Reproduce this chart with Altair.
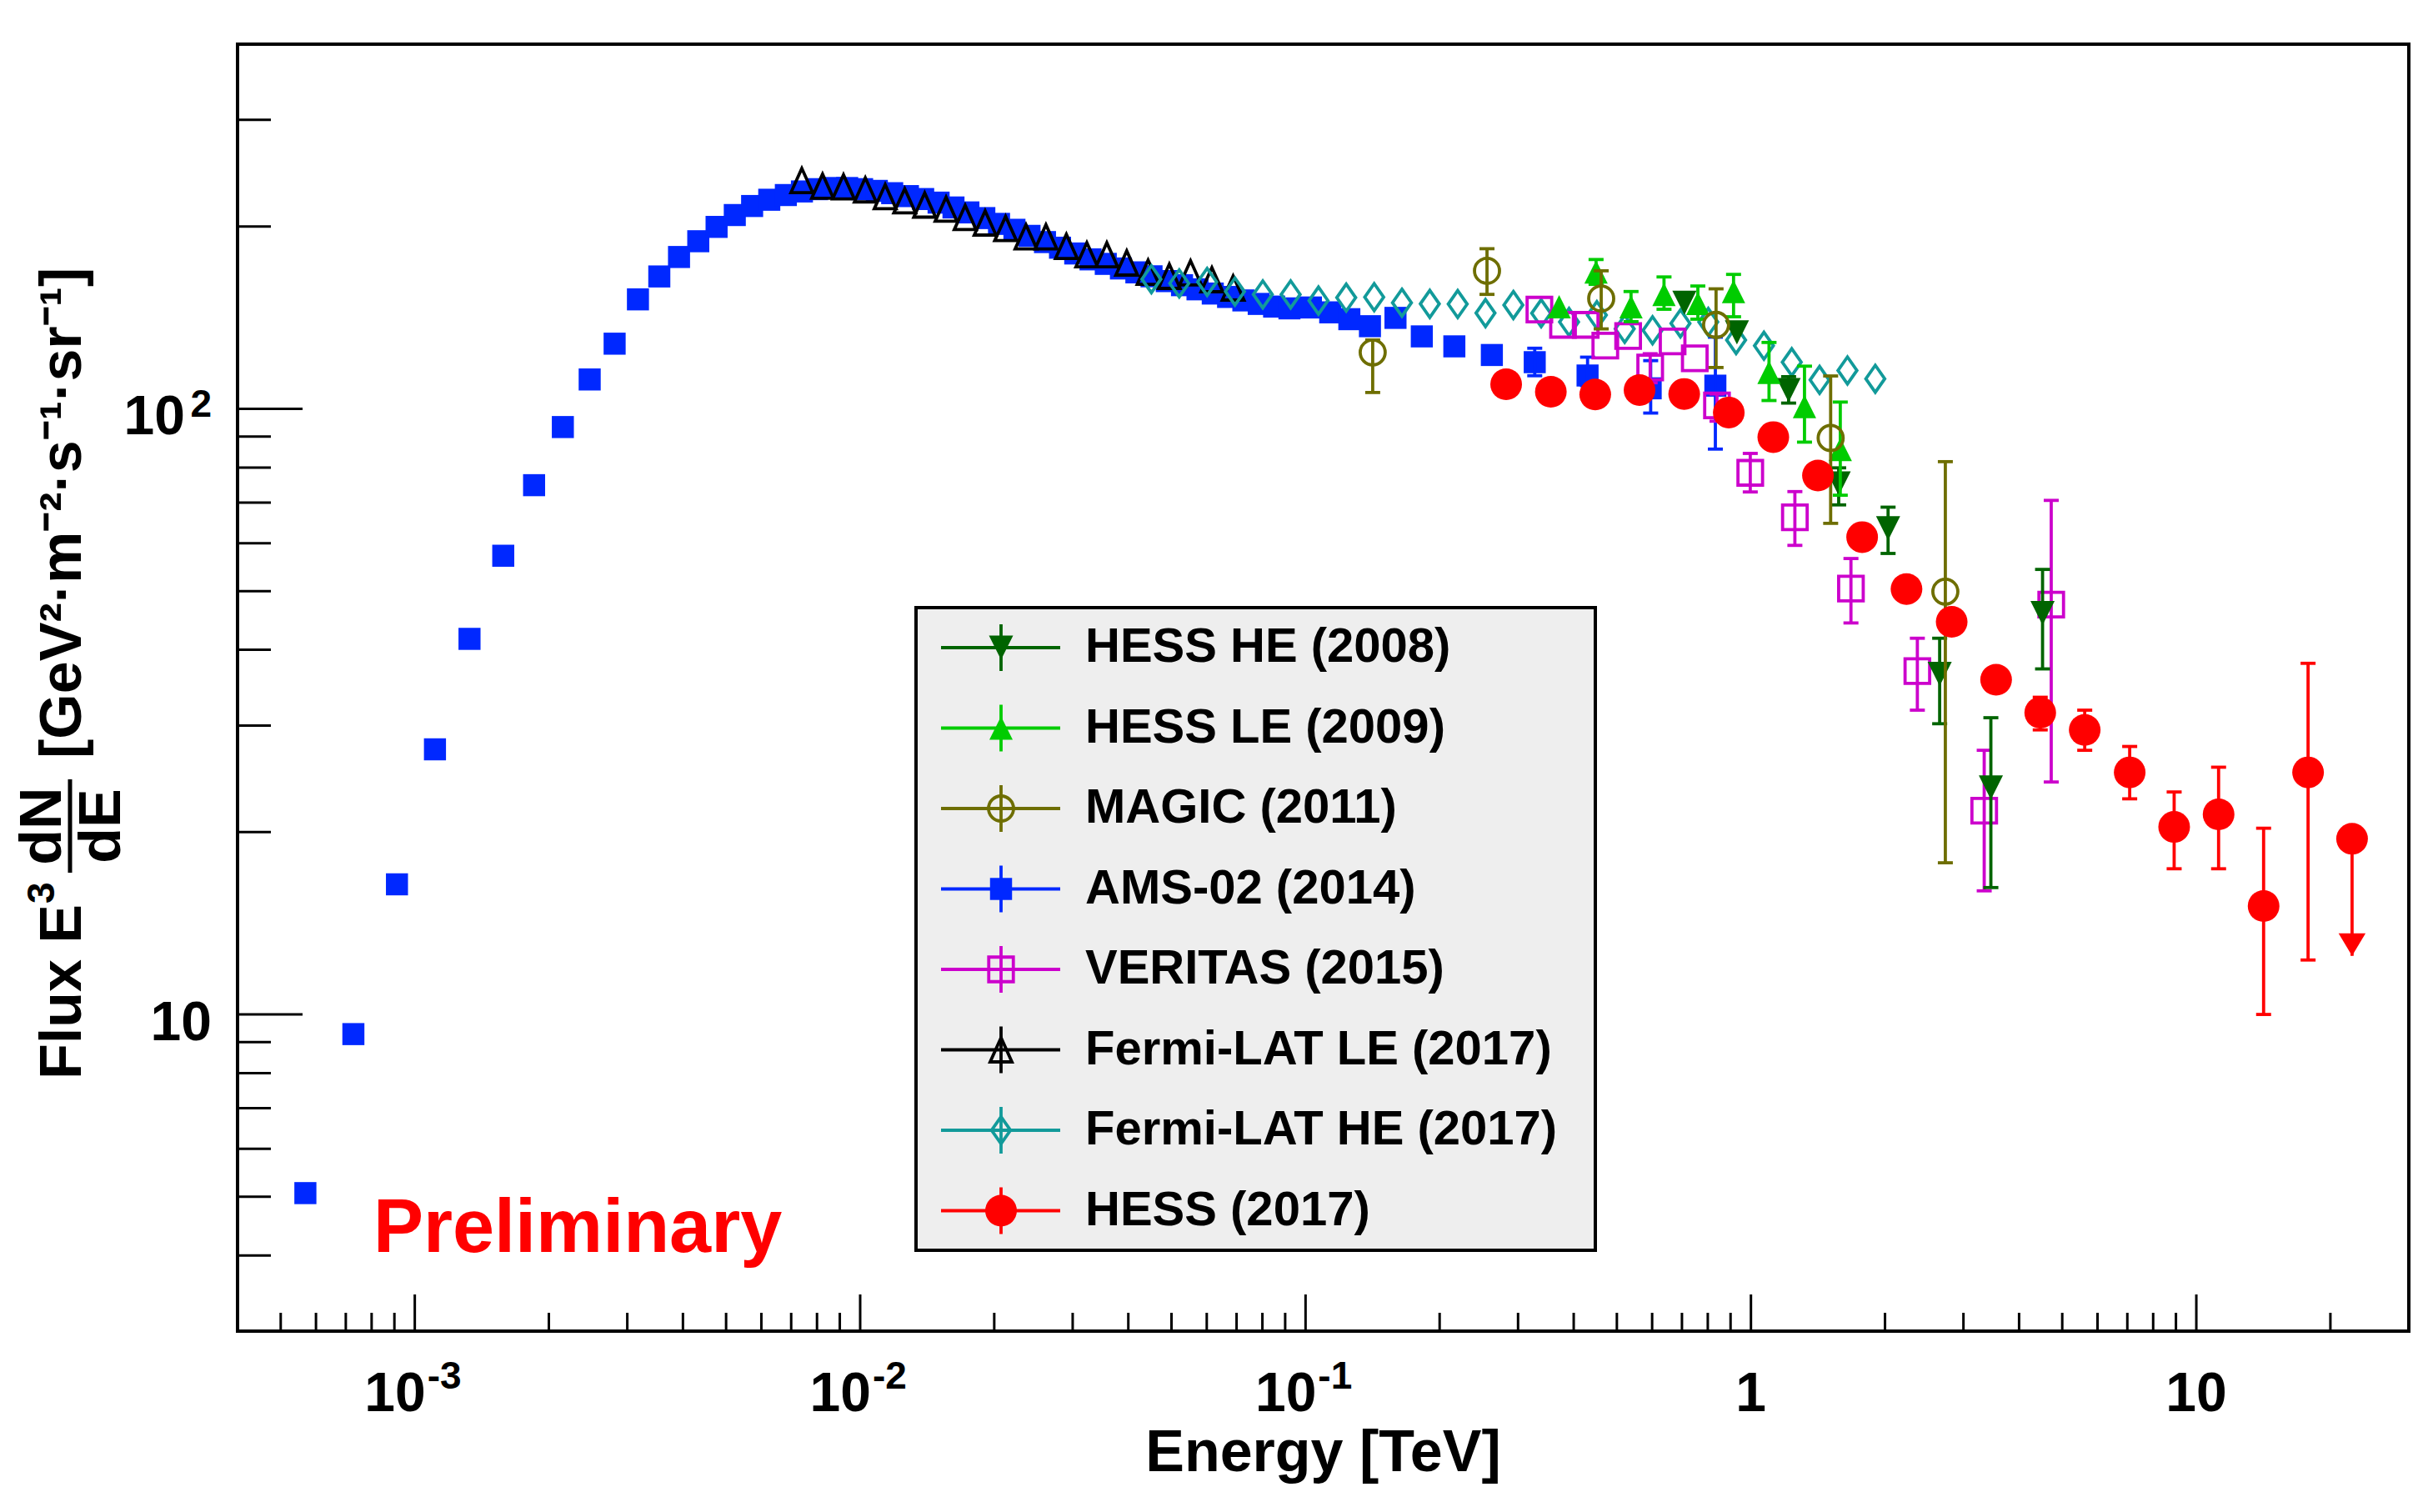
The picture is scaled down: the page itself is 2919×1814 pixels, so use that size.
import altair as alt
import pandas as pd

FONT = "Liberation Sans"
W, H = 2605, 1544

# ------------------------------------------------------------------ data
# AMS-02 (2014)
AMS_E = [5.68e-4, 7.28e-4, 9.12e-4, 1.11e-3, 1.327e-3, 1.58e-3, 1.853e-3, 2.15e-3, 2.47e-3, 2.81e-3,
         3.17e-3, 3.54e-3, 3.92e-3, 4.33e-3, 4.76e-3, 5.23e-3, 5.72e-3, 6.25e-3, 6.81e-3, 7.40e-3,
         8.00e-3, 8.65e-3, 9.35e-3, 1.01e-2, 1.09e-2, 1.18e-2, 1.28e-2, 1.385e-2, 1.50e-2, 1.62e-2,
         1.75e-2, 1.90e-2, 2.05e-2, 2.22e-2, 2.40e-2, 2.60e-2, 2.81e-2, 3.04e-2, 3.29e-2, 3.56e-2,
         3.85e-2, 4.17e-2, 4.51e-2, 4.88e-2, 5.28e-2, 5.72e-2, 6.19e-2, 6.70e-2, 7.25e-2, 7.85e-2,
         8.50e-2, 9.20e-2, 0.1028, 0.1136, 0.1254, 0.1395, 0.1592, 0.1824, 0.2158, 0.262,
         0.327, 0.4297, 0.5955, 0.832]
AMS_F = [5.07, 9.28, 16.4, 27.4, 41.7, 57.2, 74.8, 93.3, 111.8, 128.1,
         151.6, 165.4, 178.1, 189.1, 199.7, 208.9, 216.2, 221.4, 225.4, 228.5,
         230.5, 231.5, 231.5, 230.5, 229.0, 227.0, 224.5, 222.0, 219.0, 215.0,
         211.0, 206.5, 202.0, 197.5, 193.0, 188.5, 184.5, 180.5, 176.5, 173.5,
         170.5, 168.0, 165.5, 162.5, 160.0, 157.5, 155.0, 153.0, 151.0, 149.0,
         147.5, 146.5, 147.0, 144.3, 140.6, 136.9, 141.3, 131.7, 126.8, 122.7,
         119.4, 113.5, 108.1, 109.2]
AMS_ERR_E = [0.327, 0.4297, 0.5955, 0.832]
AMS_ERR_LO = [113.4, 109.2, 98.4, 85.8]
AMS_ERR_HI = [125.9, 121.7, 120.1, 131.3]

# Fermi-LAT LE (2017)
FLE_E = [7.396e-3, 8.233e-3, 9.173e-3, 1.027e-2, 1.138e-2, 1.259e-2, 1.396e-2, 1.559e-2, 1.721e-2, 1.908e-2,
         2.121e-2, 2.357e-2, 2.613e-2, 2.904e-2, 3.228e-2, 3.579e-2, 3.967e-2, 4.431e-2, 4.944e-2, 5.518e-2,
         6.162e-2, 6.877e-2]
FLE_F = [238.2, 233.1, 232.5, 229.9, 224.0, 220.5, 217.0, 213.6, 207.0, 202.7,
         198.5, 192.3, 192.3, 185.4, 179.6, 179.6, 174.1, 168.1, 165.5, 167.7,
         163.4, 158.3]

# Fermi-LAT HE (2017)
FHE_E = [0.04507, 0.05205, 0.06012, 0.06943, 0.08017, 0.09259, 0.1069, 0.1234, 0.1426, 0.1646,
         0.1901, 0.2196, 0.2535, 0.2928, 0.3381, 0.3905, 0.4509, 0.5207, 0.6013, 0.6946,
         0.8021, 0.9262, 1.0695, 1.235, 1.426, 1.647, 1.902]
FHE_F = [163.7, 161.1, 162.0, 156.2, 154.5, 154.5, 150.9, 152.6, 152.9, 149.7,
         149.0, 148.9, 143.9, 148.4, 143.8, 139.1, 142.8, 135.5, 134.8, 138.4,
         139.1, 129.9, 127.1, 119.4, 111.6, 115.7, 112.1]

# MAGIC (2011)
MAG_E = [0.1415, 0.2555, 0.4611, 0.835, 1.51, 2.732]
MAG_F = [123.9, 169.0, 152.1, 137.6, 89.5, 49.9]
MAG_LO = [106.4, 154.5, 135.5, 117.0, 64.7, 17.8]
MAG_HI = [129.9, 183.8, 169.0, 157.8, 113.3, 81.8]

# HESS HE (2008)
HHE_E = [0.709, 0.930, 1.215, 1.574, 2.032, 2.653, 3.457, 4.516]
HHE_F = [149.7, 133.7, 107.4, 75.3, 63.5, 36.5, 23.7, 46.0]
HHE_ERR_E = [1.215, 1.574, 2.032, 2.653, 3.457, 4.516]
HHE_ERR_LO = [102.2, 69.4, 57.7, 30.2, 16.2, 37.2]
HHE_ERR_HI = [113.0, 79.9, 68.8, 41.8, 30.9, 54.3]

# HESS LE (2009)
HLE_E = [0.371, 0.449, 0.538, 0.638, 0.760, 0.914, 1.098, 1.319, 1.587]
HLE_F = [147.4, 168.3, 147.4, 154.5, 149.3, 156.2, 114.9, 100.9, 85.7]
HLE_ERR_E = [0.449, 0.538, 0.638, 0.760, 0.914, 1.098, 1.319, 1.587]
HLE_ERR_LO = [160.5, 139.3, 146.0, 140.6, 141.9, 103.2, 88.1, 72.0]
HLE_ERR_HI = [176.4, 156.2, 165.1, 159.5, 166.7, 128.7, 117.6, 102.6]

# VERITAS (2015)
VER_E = [0.335, 0.3785, 0.4256, 0.471, 0.530, 0.594, 0.667, 0.748, 0.839, 0.9965,
         1.255, 1.677, 2.364, 3.340, 4.723]
VER_F = [145.8, 137.6, 137.6, 127.2, 131.9, 117.0, 129.2, 121.2, 101.3, 78.4,
         66.2, 50.5, 36.9, 21.7, 47.5]
VER_ERR_E = [0.594, 0.839, 0.9965, 1.255, 1.677, 2.364, 3.340, 4.723]
VER_ERR_LO = [110.4, 95.4, 72.9, 59.5, 44.3, 31.8, 16.0, 24.2]
VER_ERR_HI = [123.3, 105.8, 84.4, 73.0, 56.6, 41.8, 27.3, 70.6]

# HESS (2017)
H17_E = [0.2821, 0.3554, 0.4471, 0.5622, 0.7082, 0.8917, 1.1225, 1.414, 1.777, 2.235,
         2.823, 3.552, 4.462, 5.616, 7.086, 8.917, 11.22, 14.16, 17.82, 22.37]
H17_F = [109.8, 106.7, 105.6, 107.4, 105.8, 98.6, 89.8, 77.6, 61.4, 50.4,
         44.5, 35.7, 31.5, 29.5, 25.1, 20.4, 21.4, 15.1, 25.1, 19.5]
H17_ERR_E = [4.462, 5.616, 7.086, 8.917, 11.22, 14.16, 17.82]
H17_ERR_LO = [29.5, 27.3, 22.7, 17.4, 17.4, 10.0, 12.3]
H17_ERR_HI = [33.4, 31.8, 27.7, 23.3, 25.6, 20.3, 38.0]
H17_UL_E = [22.37]
H17_UL_F = [19.5]
H17_UL_TIP = [12.5]

LEGEND_LABELS = ["HESS HE (2008)", "HESS LE (2009)", "MAGIC (2011)", "AMS-02 (2014)",
                 "VERITAS (2015)", "Fermi-LAT LE (2017)", "Fermi-LAT HE (2017)", "HESS (2017)"]

X_MAJOR = [1e-3, 1e-2, 1e-1, 1, 10]
X_MINOR = [m * d for d in [1e-4, 1e-3, 1e-2, 1e-1, 1, 10] for m in range(2, 10)
           if 4.5e-4 < m * d < 29]
Y_MAJOR = [10, 100]
Y_MINOR = [m * d for d in [1, 10, 100] for m in range(2, 10) if 3.5 < m * d < 390 and m * d not in (10, 100)]

X_EXP_VALS = [1e-3, 1e-2, 1e-1]
X_EXP_BASE = ["10", "10", "10"]
X_EXP_POW = ["-3", "-2", "-1"]
X_PLAIN_VALS = [1, 10]
X_PLAIN_TEXT = ["1", "10"]

# ------------------------------------------------------------------ styles
TRI_UP = "M0,-1L-1,1L1,1Z"
TRI_UP_OPEN = "M0,-1L-0.9,1L0.9,1Z"
TRI_DOWN = "M-1,-1L1,-1L0,1Z"
DIAMOND = "M0,-1L0.7,0L0,1L-0.7,0Z"
CAP = "M-1,0L1,0"

STY = {
    "HHE": dict(color="#006400", shape=TRI_DOWN, size=841, filled=True),
    "HLE": dict(color="#00cc00", shape=TRI_UP, size=784, filled=True),
    "MAG": dict(color="#6e6e00", shape="circle", size=900, filled=False),
    "AMS": dict(color="#0028ff", shape="square", size=700, filled=True),
    "VER": dict(color="#cc00cc", shape="square", size=870, filled=False),
    "FLE": dict(color="#000000", shape=TRI_UP_OPEN, size=841, filled=False),
    "FHE": dict(color="#129a9a", shape=DIAMOND, size=1050, filled=False),
    "H17": dict(color="#ff0000", shape="circle", size=1444, filled=True),
}
LEGEND_KEYS = ["HHE", "HLE", "MAG", "AMS", "VER", "FLE", "FHE", "H17"]

xs = alt.Scale(type="log", domain=[4e-4, 30], nice=False)
ys = alt.Scale(type="log", domain=[3, 400], nice=False)
XE = alt.X("E:Q", scale=xs, axis=None)


def points(E, F, key):
    st = STY[key]
    df = pd.DataFrame({"E": E, "F": F})
    return alt.Chart(df).mark_point(shape=st["shape"], size=st["size"], filled=st["filled"],
                                    color=st["color"], opacity=1, strokeWidth=3.8).encode(
        x=XE, y=alt.Y("F:Q", scale=ys, axis=None))


def errors(E, lo, hi, key):
    c = STY[key]["color"]
    df = pd.DataFrame({"E": E, "lo": lo, "hi": hi})
    bar = alt.Chart(df).mark_rule(color=c, strokeWidth=3.8).encode(
        x=XE, y=alt.Y("lo:Q", scale=ys, axis=None), y2="hi:Q")
    caps = alt.Chart(df).transform_fold(["lo", "hi"], as_=["k", "v"]).mark_point(
        shape=CAP, size=324, filled=False, color=c, strokeWidth=3.8, opacity=1).encode(
        x=XE, y=alt.Y("v:Q", scale=ys, axis=None))
    return [bar, caps]


layers = []
layers.append(points(AMS_E, AMS_F, "AMS"))
layers += errors(AMS_ERR_E, AMS_ERR_LO, AMS_ERR_HI, "AMS")
layers.append(points(FLE_E, FLE_F, "FLE"))
layers.append(points(FHE_E, FHE_F, "FHE"))
layers += errors(VER_ERR_E, VER_ERR_LO, VER_ERR_HI, "VER")
layers.append(points(VER_E, VER_F, "VER"))
layers += errors(HHE_ERR_E, HHE_ERR_LO, HHE_ERR_HI, "HHE")
layers.append(points(HHE_E, HHE_F, "HHE"))
layers += errors(HLE_ERR_E, HLE_ERR_LO, HLE_ERR_HI, "HLE")
layers.append(points(HLE_E, HLE_F, "HLE"))
layers += errors(MAG_E, MAG_LO, MAG_HI, "MAG")
layers.append(points(MAG_E, MAG_F, "MAG"))
layers += errors(H17_ERR_E, H17_ERR_LO, H17_ERR_HI, "H17")
ul = pd.DataFrame({"E": H17_UL_E, "F": H17_UL_F, "tip": H17_UL_TIP})
layers.append(alt.Chart(ul).mark_rule(color="#ff0000", strokeWidth=3.8).encode(
    x=XE, y=alt.Y("F:Q", scale=ys, axis=None), y2="tip:Q"))
layers.append(alt.Chart(ul).mark_point(shape="M-0.6,-1L0.6,-1L0,0Z", size=2916, filled=True,
                                       color="#ff0000", opacity=1).encode(
    x=XE, y=alt.Y("tip:Q", scale=ys, axis=None)))
layers.append(points(H17_E, H17_F, "H17"))

# ------------------------------------------------------------------ axes (ROOT style, inward ticks)
def vdf(v):
    return pd.DataFrame({"v": v})

layers.append(alt.Chart(vdf(Y_MAJOR)).mark_rule(color="black", strokeWidth=3).encode(
    y=alt.Y("v:Q", scale=ys, axis=None), x=alt.value(0), x2=alt.value(78)))
layers.append(alt.Chart(vdf(Y_MINOR)).mark_rule(color="black", strokeWidth=3).encode(
    y=alt.Y("v:Q", scale=ys, axis=None), x=alt.value(0), x2=alt.value(40)))
layers.append(alt.Chart(vdf(X_MAJOR)).mark_rule(color="black", strokeWidth=3).encode(
    x=alt.X("v:Q", scale=xs, axis=None), y=alt.value(H), y2=alt.value(H - 44)))
layers.append(alt.Chart(vdf(X_MINOR)).mark_rule(color="black", strokeWidth=3).encode(
    x=alt.X("v:Q", scale=xs, axis=None), y=alt.value(H), y2=alt.value(H - 22)))

txt = dict(font=FONT, fontWeight="bold", color="black")

xexp = pd.DataFrame({"v": X_EXP_VALS, "b": X_EXP_BASE, "p": X_EXP_POW})
layers.append(alt.Chart(xexp).mark_text(fontSize=66, align="right", baseline="alphabetic", dx=13, **txt).encode(
    x=alt.X("v:Q", scale=xs, axis=None), y=alt.value(1640), text="b:N"))
layers.append(alt.Chart(xexp).mark_text(fontSize=46, align="left", baseline="alphabetic", dx=15, **txt).encode(
    x=alt.X("v:Q", scale=xs, axis=None), y=alt.value(1613), text="p:N"))
xpl = pd.DataFrame({"v": X_PLAIN_VALS, "b": X_PLAIN_TEXT})
layers.append(alt.Chart(xpl).mark_text(fontSize=66, align="center", baseline="alphabetic", **txt).encode(
    x=alt.X("v:Q", scale=xs, axis=None), y=alt.value(1640), text="b:N"))

ylab = pd.DataFrame({"v": [10], "b": ["10"]})
layers.append(alt.Chart(ylab).mark_text(fontSize=66, align="right", baseline="alphabetic", dy=31, **txt).encode(
    y=alt.Y("v:Q", scale=ys, axis=None), x=alt.value(-31), text="b:N"))
ylab2 = pd.DataFrame({"v": [100], "b": ["10"], "p": ["2"]})
layers.append(alt.Chart(ylab2).mark_text(fontSize=66, align="right", baseline="alphabetic", dy=31, **txt).encode(
    y=alt.Y("v:Q", scale=ys, axis=None), x=alt.value(-63), text="b:N"))
layers.append(alt.Chart(ylab2).mark_text(fontSize=46, align="right", baseline="alphabetic", dy=10, **txt).encode(
    y=alt.Y("v:Q", scale=ys, axis=None), x=alt.value(-31), text="p:N"))


def label(text, x, y, size=70, align="left", angle=0, color="black", baseline="alphabetic"):
    return alt.Chart(pd.DataFrame({"t": [text]})).mark_text(
        font=FONT, fontWeight="bold", fontSize=size, align=align, baseline=baseline,
        angle=angle, color=color).encode(x=alt.value(x), y=alt.value(y), text="t:N")


# x title
layers.append(label("Energy [TeV]", W / 2, 1712, size=70, align="center"))
# y title (ROOT TLatex with a fraction)
layers.append(label("Flux E", -188, 1242, angle=270))
layers.append(label("3", -220, 1031, size=46, angle=270))
layers.append(label("dN", -212, 938, align="center", angle=270))
layers.append(label("dE", -141, 938, align="center", angle=270))
layers.append(alt.Chart(pd.DataFrame({"a": [0]})).mark_rule(color="black", strokeWidth=5).encode(
    x=alt.value(-201), y=alt.value(882), y2=alt.value(994)))
layers.append(label("[GeV²·m⁻²·s⁻¹·sr⁻¹]", -188, 857, angle=270))

# Preliminary
layers.append(label("Preliminary", 163, 1449, size=90, color="#ff0000"))

# ------------------------------------------------------------------ legend box
LX0, LX1, LY0, LY1 = 814, 1629, 676, 1447
layers.append(alt.Chart(pd.DataFrame({"a": [0]})).mark_rect(
    fill="#eeeeee", stroke="black", strokeWidth=4).encode(
    x=alt.value(LX0), x2=alt.value(LX1), y=alt.value(LY0), y2=alt.value(LY1)))

for i, (key, lab) in enumerate(zip(LEGEND_KEYS, LEGEND_LABELS)):
    st = STY[key]
    yc = 724 + 96.5 * i
    one = pd.DataFrame({"a": [0]})
    layers.append(alt.Chart(one).mark_rule(color=st["color"], strokeWidth=3.8).encode(
        x=alt.value(844), x2=alt.value(987), y=alt.value(yc)))
    layers.append(alt.Chart(one).mark_rule(color=st["color"], strokeWidth=3.8).encode(
        x=alt.value(916), y=alt.value(yc - 28), y2=alt.value(yc + 28)))
    layers.append(alt.Chart(one).mark_point(shape=st["shape"], size=st["size"], filled=st["filled"],
                                            color=st["color"], opacity=1, strokeWidth=3.8).encode(
        x=alt.value(916), y=alt.value(yc)))
    layers.append(label(lab, 1017, yc, size=58, baseline="middle"))

chart = alt.layer(*layers).properties(
    width=W, height=H,
    autosize=alt.AutoSizeParams(type="none"),
    padding={"left": 277, "top": 45, "right": 20, "bottom": 200},
    background="white",
).configure_view(stroke="black", strokeWidth=4)

chart.save("out.html", embed_options={"renderer": "svg", "actions": False})
